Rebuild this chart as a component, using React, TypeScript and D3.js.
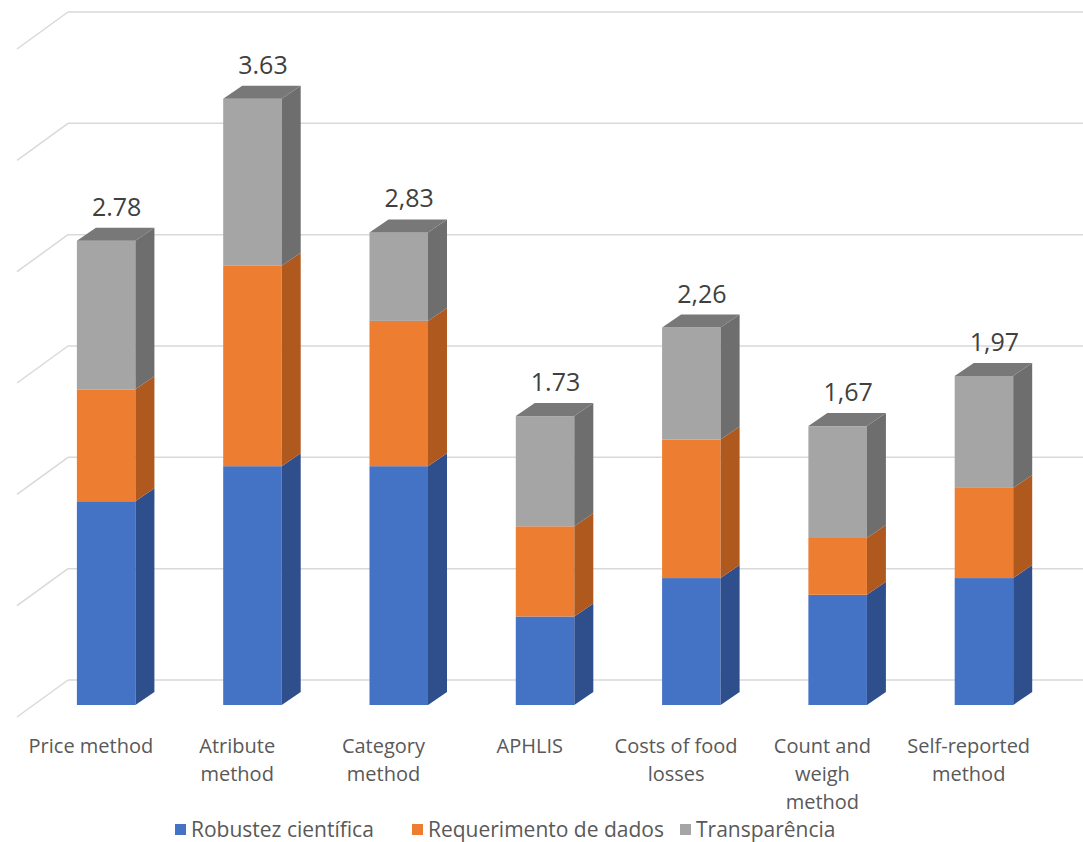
import * as d3 from 'd3';

// categories and stacked values (front faces)
const categories = [
  'Price method',
  'Atribute method',
  'Category method',
  'APHLIS',
  'Costs of food losses',
  'Count and weigh method',
  'Self-reported method',
];
const categoryLines = [
  ['Price method'],
  ['Atribute', 'method'],
  ['Category', 'method'],
  ['APHLIS'],
  ['Costs of food', 'losses'],
  ['Count and', 'weigh', 'method'],
  ['Self-reported', 'method'],
];
const robustez = [1.22, 1.43, 1.43, 0.53, 0.76, 0.66, 0.76];
const requerimento = [0.67, 1.2, 0.87, 0.54, 0.83, 0.34, 0.54];
const transparencia = [0.89, 1.0, 0.53, 0.66, 0.67, 0.67, 0.67];
const totalLabels = ['2.78', '3.63', '2,83', '1.73', '2,26', '1,67', '1,97'];
const seriesNames = ['Robustez científica', 'Requerimento de dados', 'Transparência'];
const gridTicks = [0, 1, 2, 3, 4, 5, 6];

const W = 1083;
const H = 842;
const font = '"Open Sans", "DejaVu Sans", sans-serif';

// front, side, top colours per series
const colors = [
  { front: '#4472c4', side: '#2f4f8c', top: '#3a62ab' },
  { front: '#ed7d31', side: '#b0591f', top: '#c96a28' },
  { front: '#a5a5a5', side: '#6e6e6e', top: '#787878' },
];

export default function App() {
  // depth of the 3D bars
  const dx = 19;
  const dy = -13;

  const x = d3
    .scaleBand<string>()
    .domain(categories)
    .range([33, 33 + 7 * 146.3])
    .paddingInner(0.6)
    .paddingOuter(0.3);
  const bw = x.bandwidth();

  // scale for the bar fronts
  const y = d3.scaleLinear().domain([0, 4]).range([705, 705 - 4 * 167]);
  // scale for the back wall gridlines
  const yBack = d3.scaleLinear().domain([0, 6]).range([680, 12]);

  const rows = categories.map((c, i) => ({
    cat: c,
    s0: robustez[i],
    s1: requerimento[i],
    s2: transparencia[i],
  }));
  const stack = d3.stack<any>().keys(['s0', 's1', 's2']);
  const layers = stack(rows);

  const legendX = [175, 412, 680];

  return (
    <svg
      width={W}
      height={H}
      style={{ position: 'absolute', left: 0, top: 0, background: '#fff' }}
    >
      <rect width={W} height={H} fill="#fff" />
      {/* gridlines: left wall slant + back wall */}
      {gridTicks.map((t) => (
        <g key={t} stroke="#d9d9d9" strokeWidth={1.5} fill="none">
          <line x1={17} y1={yBack(t) + 37} x2={68} y2={yBack(t)} />
          <line x1={68} y1={yBack(t)} x2={W} y2={yBack(t)} />
        </g>
      ))}

      {/* bars */}
      {categories.map((c, i) => {
        const x0 = x(c)!;
        return (
          <g key={c}>
            {layers.map((layer, k) => {
              const [v0, v1] = layer[i];
              const yb = y(v0);
              const yt = y(v1);
              const col = colors[k];
              const side = `M${x0 + bw},${yb} L${x0 + bw + dx},${yb + dy} L${x0 + bw + dx},${yt + dy} L${x0 + bw},${yt} Z`;
              const isTop = k === layers.length - 1;
              const top = `M${x0},${yt} L${x0 + dx},${yt + dy} L${x0 + bw + dx},${yt + dy} L${x0 + bw},${yt} Z`;
              return (
                <g key={k}>
                  <rect x={x0} y={yt} width={bw} height={yb - yt} fill={col.front} />
                  <path d={side} fill={col.side} />
                  {isTop && <path d={top} fill={col.top} />}
                </g>
              );
            })}
            <text
              x={x0 + (bw + dx) / 2 + 1}
              y={y(layers[2][i][1]) + dy - 12}
              textAnchor="middle"
              fontFamily={font}
              fontSize={25}
              fill="#404040"
            >
              {totalLabels[i]}
            </text>
            <text
              x={x0 + 14}
              y={753}
              textAnchor="middle"
              fontFamily={font}
              fontSize={20}
              fill="#595959"
            >
              {categoryLines[i].map((ln, j) => (
                <tspan key={j} x={x0 + 14} dy={j === 0 ? 0 : 28}>
                  {ln}
                </tspan>
              ))}
            </text>
          </g>
        );
      })}

      {/* legend */}
      {seriesNames.map((s, k) => (
        <g key={s}>
          <rect x={legendX[k]} y={824} width={11} height={11} fill={colors[k].front} />
          <text
            x={legendX[k] + 16}
            y={837}
            fontFamily={font}
            fontSize={21}
            fill="#595959"
          >
            {s}
          </text>
        </g>
      ))}
    </svg>
  );
}
